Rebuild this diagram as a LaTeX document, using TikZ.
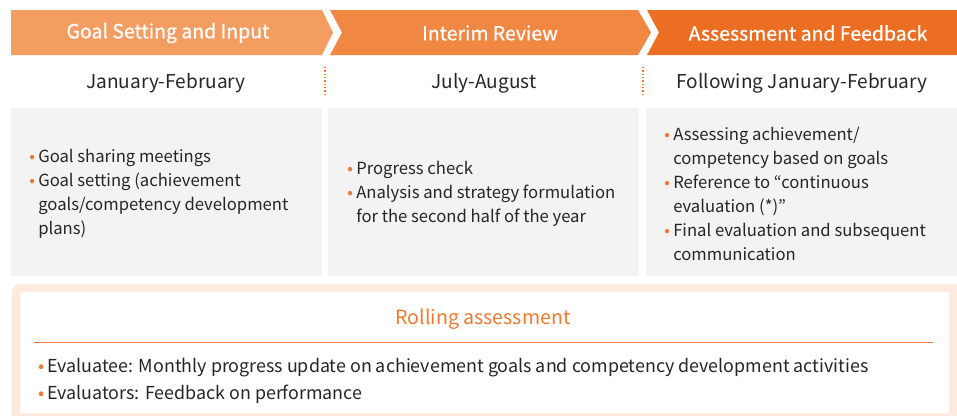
\documentclass[tikz,border=0pt]{standalone}
\usepackage{fontspec}
\setmainfont{Noto Sans CJK KR}
\newfontfamily\headfont[FakeBold=0.8]{Noto Sans CJK KR}
\usetikzlibrary{positioning}
\definecolor{phaseA}{HTML}{F39D61}
\definecolor{phaseB}{HTML}{F08742}
\definecolor{phaseC}{HTML}{EC6E22}
\definecolor{boxgray}{HTML}{F3F3F3}
\definecolor{peach}{HTML}{FDEADC}
\definecolor{dotorange}{HTML}{EE7A32}
\newcommand{\bul}{\makebox[6.75pt][l]{\textcolor{dotorange}{\textbullet}}}
\newcommand{\gap}{\hspace*{6.75pt}}

\begin{document}
\begin{tikzpicture}[x=0.75pt,y=-0.75pt]
\tikzset{phase/.style = {text=white,font=\headfont\fontsize{14.6}{17}\selectfont},
  period/.style = {text=black!85,font=\fontsize{14.3}{17}\selectfont},
  items/.style = {anchor=west,align=left,inner sep=0pt,text=black!85,font=\fontsize{12.5}{18}\selectfont},
  sepline/.style = {dotorange,line width=1pt,dash pattern=on 1pt off 1.5pt}}
\useasboundingbox (0,0) rectangle (957,415);

% phase bands
\fill[phaseA] (11,10) -- (322,10) -- (333,32.5) -- (322,55) -- (11,55) -- cycle;
\fill[phaseB] (330,10) -- (638,10) -- (651,32.5) -- (638,55) -- (330,55) -- (342,32.5) -- cycle;
\fill[phaseC] (647,10) -- (957,10) -- (957,55) -- (647,55) -- (659,32.5) -- cycle;
\node[phase] (h1) at (168,33) {Goal Setting and Input};
\node[phase] (h2) at (490,33) {Interim Review};
\node[phase] (h3) at (808,33) {Assessment and Feedback};

% periods
\node[period] (d1) at (166,83.5) {January-February};
\node[period] (d2) at (484,83.5) {July-August};
\node[period] (d3) at (802,83.5) {Following January-February};
\draw[sepline] (325,67) -- (325,97);
\draw[sepline] (643,67) -- (643,97);

% boxes
\fill[boxgray] (11,108) rectangle (322,276);
\fill[boxgray] (328,108) rectangle (639,276);
\fill[boxgray] (646,108) rectangle (957,276);
\node[items] (t1) at (29,194) {\bul Goal sharing meetings\\
  \bul Goal setting (achievement\\
  \gap goals/competency development\\
  \gap plans)};
\node[items] (t2) at (347,194) {\bul Progress check\\
  \bul Analysis and strategy formulation\\
  \gap for the second half of the year};
\node[items] (t3) at (664,194) {\bul Assessing achievement/\\
  \gap competency based on goals\\
  \bul Reference to “continuous\\
  \gap evaluation (*)”\\
  \bul Final evaluation and subsequent\\
  \gap communication};

% rolling assessment
\fill[peach,rounded corners=6pt] (12,284) rectangle (965,425);
\fill[white] (20,292) rectangle (949,413);
\node[text=dotorange,font=\fontsize{14.7}{17}\selectfont] (r) at (483,319) {Rolling assessment};
\draw[dotorange,line width=0.75pt] (34,342) -- (933,342);
\node[items,font=\fontsize{13.4}{20.25}\selectfont] (rt) at (38,381) {\bul Evaluatee: Monthly progress update on achievement goals and competency development activities\\
  \bul Evaluators: Feedback on performance};
\end{tikzpicture}
\end{document}
